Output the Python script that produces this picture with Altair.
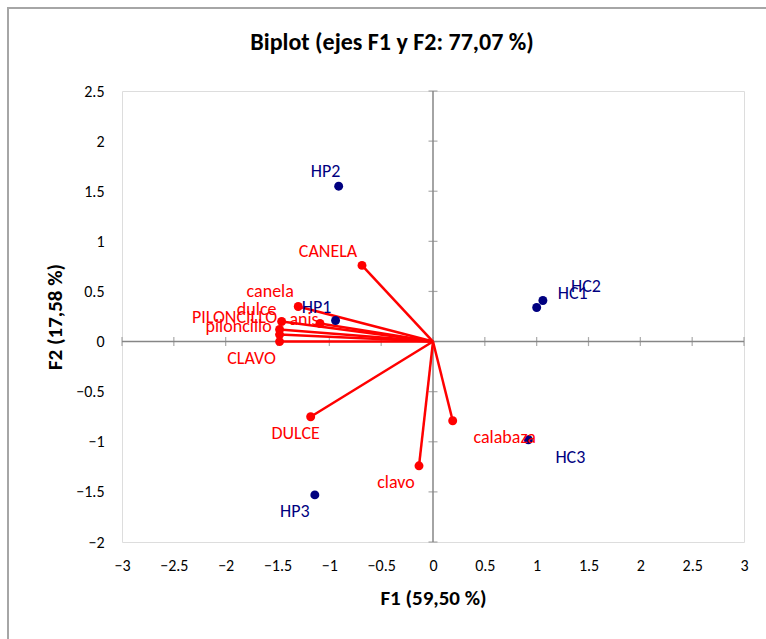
import altair as alt
import pandas as pd

# Observations (blue)
obs_names = ["HP2", "HP1", "HC2", "HC1", "HC3", "HP3"]
obs_x = [-0.91, -0.94, 1.06, 1.00, 0.92, -1.14]
obs_y = [1.55, 0.21, 0.41, 0.34, -0.98, -1.53]

# Variables (red vectors)
var_names = ["CANELA", "canela", "dulce", "PILONCILLO", "anis", "piloncillo",
             "CLAVO", "DULCE", "clavo", "calabaza"]
var_x = [-0.685, -1.30, -1.46, -1.48, -1.09, -1.48, -1.48, -1.18, -0.135, 0.19]
var_y = [0.76, 0.35, 0.20, 0.12, 0.18, 0.07, 0.00, -0.75, -1.24, -0.79]

x_ticks = [-3, -2.5, -2, -1.5, -1, -0.5, 0, 0.5, 1, 1.5, 2, 2.5, 3]
y_ticks = [-2, -1.5, -1, -0.5, 0, 0.5, 1, 1.5, 2, 2.5]

# label placement (pixel offsets from each point)
obs_label_off = [(-13, -14), (-19, -13), (43, -13), (36, -13), (42, 18), (-20, 17)]
var_label_off = [(-34, -13), (-28, -14), (-25, -12), (-45, -12), (-16, -4),
                 (-41, -8), (-28, 17), (-15, 17), (-23, 17), (52, 17)]

FONT = "Carlito, Lato, sans-serif"
RED = "#FF0000"
NAVY = "#000080"
GRAY = "#868686"
LBL = 18

obs_df = pd.DataFrame({"name": obs_names, "x": obs_x, "y": obs_y})
var_df = pd.DataFrame({"name": var_names, "x": var_x, "y": var_y,
                       "x0": [0.0] * len(var_names), "y0": [0.0] * len(var_names)})
xt_df = pd.DataFrame({"v": x_ticks, "z": [0.0] * len(x_ticks)})
yt_df = pd.DataFrame({"v": y_ticks, "z": [0.0] * len(y_ticks)})

xs = alt.Scale(domain=[-3, 3], nice=False, zero=False)
ys = alt.Scale(domain=[-2, 2.5], nice=False, zero=False)

x_axis = alt.Axis(values=x_ticks, format="~g", title="F1 (59,50 %)", grid=False, domain=False,
                  ticks=False, labelPadding=15, labelFontSize=16, labelFont=FONT,
                  labelColor="#000000", titleFont=FONT, titleFontSize=21,
                  titleFontWeight="bold", titleColor="#000000", titlePadding=14,
                  labelFlush=False, labelOverlap=False)
y_axis = alt.Axis(values=y_ticks, format="~g", title="F2 (17,58 %)", grid=False, domain=False,
                  ticks=False, labelPadding=18, labelFontSize=16, labelFont=FONT,
                  labelColor="#000000", titleFont=FONT, titleFontSize=21,
                  titleFontWeight="bold", titleColor="#000000", titlePadding=10,
                  labelFlush=False, labelOverlap=False)

base_axes = alt.Chart(xt_df).mark_point(opacity=0).encode(
    x=alt.X("v:Q", scale=xs, axis=x_axis),
    y=alt.Y("z:Q", scale=ys, axis=y_axis),
)

zero_v = alt.Chart(pd.DataFrame({"z": [0.0]})).mark_rule(color=GRAY, strokeWidth=1.5).encode(
    x=alt.X("z:Q", scale=xs)
)
zero_h = alt.Chart(pd.DataFrame({"z": [0.0]})).mark_rule(color=GRAY, strokeWidth=1.5).encode(
    y=alt.Y("z:Q", scale=ys)
)
ticks_h = alt.Chart(xt_df).mark_tick(orient="vertical", size=9, thickness=1.2, color=GRAY).encode(
    x=alt.X("v:Q", scale=xs), y=alt.Y("z:Q", scale=ys)
)
ticks_v = alt.Chart(yt_df).mark_tick(orient="horizontal", size=9, thickness=1.2, color=GRAY).encode(
    x=alt.X("z:Q", scale=xs), y=alt.Y("v:Q", scale=ys)
)

arrows = alt.Chart(var_df).mark_rule(color=RED, strokeWidth=2.5).encode(
    x=alt.X("x0:Q", scale=xs), y=alt.Y("y0:Q", scale=ys),
    x2="x:Q", y2="y:Q",
)
var_pts = alt.Chart(var_df).mark_circle(color=RED, size=80, opacity=1).encode(
    x=alt.X("x:Q", scale=xs), y=alt.Y("y:Q", scale=ys)
)
obs_pts = alt.Chart(obs_df).mark_circle(color=NAVY, size=80, opacity=1).encode(
    x=alt.X("x:Q", scale=xs), y=alt.Y("y:Q", scale=ys)
)

labels = []
for i, n in enumerate(var_names):
    dx, dy = var_label_off[i]
    labels.append(
        alt.Chart(var_df[var_df["name"] == n]).mark_text(
            color=RED, font=FONT, fontSize=LBL, dx=dx, dy=dy,
            align="center", baseline="middle"
        ).encode(x=alt.X("x:Q", scale=xs), y=alt.Y("y:Q", scale=ys), text="name:N")
    )
for i, n in enumerate(obs_names):
    dx, dy = obs_label_off[i]
    labels.append(
        alt.Chart(obs_df[obs_df["name"] == n]).mark_text(
            color=NAVY, font=FONT, fontSize=LBL, dx=dx, dy=dy,
            align="center", baseline="middle"
        ).encode(x=alt.X("x:Q", scale=xs), y=alt.Y("y:Q", scale=ys), text="name:N")
    )

# outer chart border (left and top edges visible)
border_left = alt.Chart(pd.DataFrame({"z": [0]})).mark_rule(color="#A6A6A6", strokeWidth=2).encode(
    x=alt.value(-114), y=alt.value(-83), y2=alt.value(560)
)
border_top = alt.Chart(pd.DataFrame({"z": [0]})).mark_rule(color="#A6A6A6", strokeWidth=2).encode(
    x=alt.value(-115), x2=alt.value(660), y=alt.value(-83)
)

chart = alt.layer(
    base_axes, zero_v, zero_h, ticks_h, ticks_v, arrows, var_pts, obs_pts, *labels,
    border_left, border_top
).properties(
    width=622, height=451,
    title=alt.TitleParams("Biplot (ejes F1 y F2: 77,07 %)", font=FONT, fontSize=24,
                          fontWeight="bold", color="#000000", anchor="middle",
                          dx=-41, frame="group", baseline="alphabetic", offset=-67),
    autosize=alt.AutoSizeParams(type="none"),
    padding={"left": 122, "top": 91, "right": 22, "bottom": 97},
).configure_view(
    stroke=GRAY, strokeWidth=2
).configure(background="white")

chart.save("out.html", embed_options={"renderer": "svg", "actions": False})
